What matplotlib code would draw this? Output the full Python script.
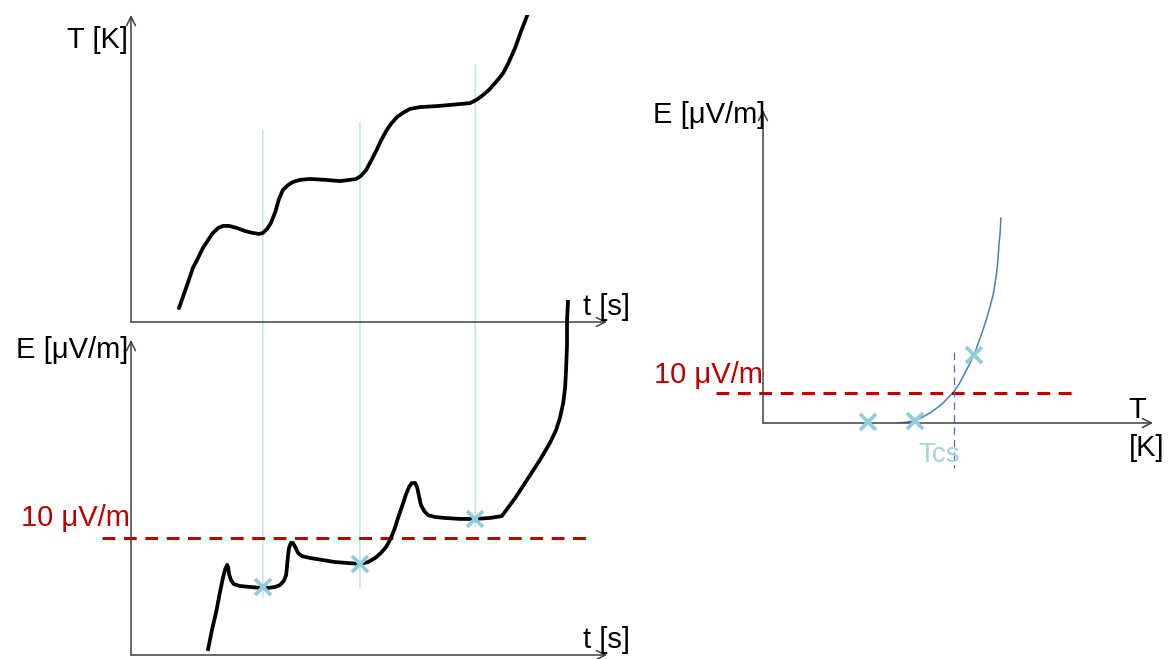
import matplotlib
matplotlib.use("Agg")
import matplotlib.pyplot as plt
from matplotlib.patches import ConnectionPatch

# top panel: temperature vs time (arbitrary units, 0..100)
t_temp = [10.1, 10.9, 12.0, 13.0, 14.1, 15.1, 16.2, 17.2, 18.3, 19.3, 20.6, 22.3,
          24.0, 25.6, 26.9, 27.7, 28.6, 29.4, 30.3, 31.1, 31.9, 33.0, 34.0, 35.5,
          37.6, 40.8, 43.9, 46.0, 47.3, 48.3, 49.4, 50.4, 51.5, 52.5, 53.6, 54.6,
          55.9, 57.1, 58.6, 60.7, 64.9, 69.1, 71.2, 72.5, 73.7, 75.2, 76.7, 78.2,
          79.4, 80.7, 81.9, 83.2]
T_temp = [4.6, 8.1, 13.0, 17.6, 20.9, 24.1, 26.7, 29.0, 30.6, 31.3, 31.3, 30.6,
          29.6, 29.0, 28.7, 29.0, 30.3, 32.3, 35.8, 40.1, 43.0, 44.6, 45.6, 46.3,
          46.6, 46.3, 45.9, 46.3, 46.6, 47.6, 49.5, 52.4, 55.7, 59.0, 62.2, 64.5,
          66.8, 68.1, 69.4, 70.0, 70.4, 71.0, 71.3, 72.3, 73.6, 75.6, 78.2, 81.1,
          84.7, 89.3, 94.5, 99.7]

# bottom panel: electric field vs time
t_field = [16.2, 17.0, 17.9, 18.7, 19.3, 19.8, 20.2, 20.4, 20.6, 21.0, 21.6, 22.9,
           25.0, 27.1, 28.8, 30.3, 31.3, 32.1, 32.6, 32.8, 33.0, 33.2, 33.6, 34.0,
           34.5, 35.1, 35.9, 37.6, 40.1, 42.9, 45.6, 48.1, 49.8, 51.3, 52.5, 53.6,
           54.4, 55.3, 56.1, 56.9, 57.8, 58.4, 59.0, 59.7, 60.1, 60.5, 60.9, 61.6,
           62.4, 63.9, 66.0, 69.1, 72.3, 75.4, 77.9, 80.7, 83.2, 85.9, 88.0, 89.3,
           90.1, 90.8, 91.2, 91.4, 91.6, 91.6, 91.8]
E_field = [1.9, 7.9, 13.7, 20.0, 24.4, 27.3, 28.6, 27.9, 25.7, 23.8, 22.5, 21.9,
           21.6, 21.3, 21.3, 21.6, 22.2, 23.5, 25.4, 28.6, 31.8, 34.0, 35.6, 35.6,
           34.3, 32.4, 31.4, 30.8, 30.2, 29.5, 29.2, 28.9, 29.5, 30.8, 32.4, 34.3,
           36.5, 39.7, 43.5, 47.0, 51.1, 53.3, 54.6, 54.6, 53.3, 50.5, 47.6, 45.7,
           44.4, 43.8, 43.5, 43.2, 43.2, 43.5, 44.1, 49.8, 55.6, 61.9, 67.3, 71.4,
           75.2, 80.0, 84.8, 90.5, 98.4, 106.3, 112.1]

# sampled points (plateaus)
t_marks = [27.7, 48.1, 72.3]
T_guide_top = [62.5, 65.1, 83.7]
E_guide_bottom = [18.4, 21.3, 40.6]
E_marks = [21.6, 28.9, 43.2]
E_threshold = 37.1

# right panel: E vs T
T_curve = [34.4, 36.4, 38.5, 40.5, 42.8, 44.6, 46.2, 47.4, 48.7, 50.3, 51.8, 53.1,
           54.4, 55.4, 56.4, 57.4, 58.2, 59.0, 59.5, 60.0, 60.3, 60.5, 60.8, 61.0]
E_curve = [0.0, 0.2, 0.6, 1.6, 3.2, 4.8, 6.4, 8.0, 9.6, 12.5, 16.0, 19.2,
           22.7, 26.2, 29.7, 33.6, 37.1, 40.9, 44.7, 48.9, 53.0, 56.9, 60.7, 65.5]
T_marks_r = [26.9, 39.0, 54.1]
E_marks_r = [0.3, 0.6, 21.7]
E_threshold_r = 9.6
T_cs = 49.0

RED = "#C00000"
CROSS = "#92CDDC"
GUIDE = "#B7DEE8"
AXIS = "#404040"
FS = 21


def draw_axes_arrows(ax):
    ax.set_axis_off()
    ax.patch.set_visible(False)
    for xy in [(1, 0), (0, 1)]:
        ax.annotate("", xy=xy, xytext=(0, 0), xycoords="axes fraction",
                    arrowprops=dict(arrowstyle="->", lw=1.1, color=AXIS,
                                    shrinkA=0, shrinkB=0, mutation_scale=16))


def main():
    plt.rcParams["font.family"] = ["Liberation Sans", "DejaVu Sans"]
    fig = plt.figure(figsize=(11.68, 6.59), dpi=100)

    ax_T = fig.add_axes([0.11216, 0.51138, 0.40753, 0.46586])
    ax_E = fig.add_axes([0.11216, 0.00607, 0.40753, 0.47800])
    ax_R = fig.add_axes([0.65325, 0.35812, 0.33390, 0.47496])
    for ax in (ax_T, ax_E, ax_R):
        ax.set_xlim(0, 100)
        ax.set_ylim(0, 100)
        draw_axes_arrows(ax)

    # top panel
    ax_T.plot(t_temp, T_temp, color="black", lw=2.7, solid_joinstyle="round")
    ax_T.text(-0.6, 92, "T [K]", fontsize=FS, ha="right", va="center")
    ax_T.text(95, 5, "t [s]", fontsize=FS, ha="left", va="center")

    # bottom panel
    ax_E.plot(t_field, E_field, color="black", lw=2.7, clip_on=False,
              solid_joinstyle="round", zorder=3)
    ax_E.plot([-6.1, 96.8], [E_threshold, E_threshold], color=RED, lw=2.2,
              linestyle=(0, (4.2, 2.8)), clip_on=False)
    ax_E.plot(t_marks, E_marks, "x", color=CROSS, ms=11, mew=2.7, zorder=4)
    ax_E.text(-0.6, 96.8, "E [μV/m]", fontsize=FS, ha="right", va="center")
    ax_E.text(-0.2, 43.5, "10 μV/m", fontsize=FS, ha="right", va="center", color=RED)
    ax_E.text(95, 4.8, "t [s]", fontsize=FS, ha="left", va="center")

    # guide lines linking both time panels
    for t, top, bot in zip(t_marks, T_guide_top, E_guide_bottom):
        con = ConnectionPatch(xyA=(t, top), coordsA=ax_T.transData,
                              xyB=(t, bot), coordsB=ax_E.transData,
                              color=GUIDE, lw=0.9, zorder=-1)
        fig.add_artist(con)

    # right panel
    ax_R.plot(T_curve, E_curve, color="#4A7EBB", lw=1.1, solid_joinstyle="round")
    ax_R.plot([-12.1, 80.8], [E_threshold_r, E_threshold_r], color=RED, lw=2.2,
              linestyle=(0, (4.2, 2.8)), clip_on=False)
    ax_R.plot([T_cs, T_cs], [22.7, -14.4], color="#4472C4", lw=0.9,
              linestyle=(0, (6, 4)), clip_on=False)
    ax_R.plot(T_marks_r, E_marks_r, "x", color=CROSS, ms=11, mew=2.7,
              clip_on=False, zorder=4)
    ax_R.text(0.5, 98.4, "E [μV/m]", fontsize=FS, ha="right", va="center")
    ax_R.text(0, 15.3, "10 μV/m", fontsize=FS, ha="right", va="center", color=RED)
    ax_R.text(93.8, 4.2, "T", fontsize=FS, ha="left", va="center")
    ax_R.text(93.8, -8.0, "[K]", fontsize=FS, ha="left", va="center")
    ax_R.text(45.1, -10.2, "Tcs", fontsize=FS - 1, ha="center", va="center",
              color="#A5D3E3")

    fig.savefig("out.png", dpi=100)
    plt.close(fig)


if __name__ == "__main__":
    main()
